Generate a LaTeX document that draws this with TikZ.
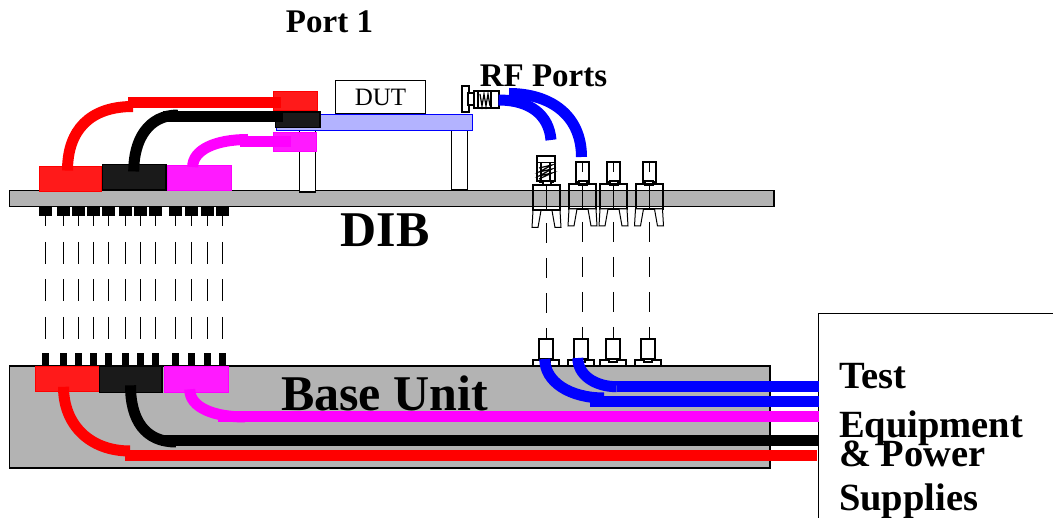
\documentclass[tikz,border=0pt]{standalone}
\usepackage{fontspec}
\setmainfont{Liberation Serif}
\usetikzlibrary{positioning}
\definecolor{plate}{RGB}{179,179,179}
\definecolor{boardblue}{RGB}{179,179,255}
\definecolor{blockred}{RGB}{255,26,26}
\definecolor{blockblack}{RGB}{26,26,26}
\definecolor{blockpink}{RGB}{255,26,255}
\definecolor{wirepink}{RGB}{255,0,255}
\begin{document}
\begin{tikzpicture}[
        x=1pt, y=-1pt,
        every node/.style={inner sep=0pt, outer sep=0pt},
        platebox/.style={draw, line width=1.5pt, fill=plate},
        whitebox/.style={draw, line width=1.5pt, fill=white},
        redblock/.style={draw=red, line width=1pt, fill=blockred},
        blackblock/.style={draw=black, line width=1.5pt, fill=blockblack},
        pinkblock/.style={draw=wirepink, line width=1pt, fill=blockpink},
        pintop/.style={fill=black, minimum width=13pt, minimum height=10pt},
        pinbot/.style={fill=black, minimum width=7pt, minimum height=13pt},
        rfpart/.style={draw, line width=2pt, fill=white},
        rfshell/.style={draw, line width=2pt, minimum width=27pt, minimum height=25pt},
        cable/.style={line width=11pt},
        link/.style={line width=1pt},
        bigtext/.style={font=\bfseries\fontsize{38.5}{40}\selectfont, anchor=base west},
        hugetext/.style={font=\bfseries\fontsize{50}{52}\selectfont},
        porttext/.style={font=\bfseries\fontsize{33}{35}\selectfont}
    ]
    \useasboundingbox (0,0) rectangle (1053,518);
    \node[platebox, minimum width=764.5pt, minimum height=16pt] (dib) at (391.7,198.3) {};
    \node[platebox, minimum width=760.5pt, minimum height=102pt] (base) at (389.7,417.2) {};
    \node[whitebox, minimum width=240pt, minimum height=212pt] (testbox) at (938.5,419.5) {};
    \node[whitebox, minimum width=16pt, minimum height=62pt] (lega) at (307.3,161) {};
    \node[whitebox, minimum width=16pt, minimum height=60pt] (legb) at (459.3,160) {};
    \node[draw, line width=1pt, fill=white, minimum width=90pt, minimum height=33pt, font=\fontsize{25}{27}\selectfont] (dut) at (380.5,97.5) {DUT};
    \node[draw=blue, line width=1pt, fill=boardblue, minimum width=196pt, minimum height=16pt] (board) at (374.2,122.3) {};

    \node[redblock, minimum width=62.5pt, minimum height=25.5pt] (dibred) at (70.5,178.8) {};
    \node[blackblock, minimum width=63.5pt, minimum height=25.5pt] (dibblack) at (134,177.2) {};
    \node[pinkblock, minimum width=64pt, minimum height=25.5pt] (dibpink) at (199,177.8) {};
    \node[redblock, minimum width=44.5pt, minimum height=19.5pt] (portred) at (295.5,101.2) {};
    \node[blackblock, minimum width=44.5pt, minimum height=15.5pt] (portblack) at (297.5,120) {};
    \node[pinkblock, minimum width=43.5pt, minimum height=19.5pt] (portpink) at (295,141.8) {};
    \node[redblock, minimum width=63.5pt, minimum height=25.5pt] (basered) at (67.7,378.8) {};
    \node[blackblock, minimum width=62.5pt, minimum height=26pt] (baseblack) at (130.7,379.3) {};
    \node[pinkblock, minimum width=64pt, minimum height=26pt] (basepink) at (196,379.3) {};

    \foreach \n/\px in {1/45.3,2/63.3,3/78.3,4/93.3,5/108.3,6/125.3,7/140.3,8/155.3,9/175.3,10/191.3,11/207.3,12/222.3} {
        \node[pintop] (pina\n) at (\px,211.5) {};
        \node[pinbot] (pinb\n) at (\px,359.5) {};
        \draw[link, dash pattern=on 22pt off 15.5pt, dash phase=12pt] (pina\n.south) -- (pinb\n.north);
    }

    \foreach \n/\px/\py/\qx in {1/546.5/198/546,2/582.5/196.5/581,3/613.5/196.5/612.5,4/649/196.5/648} {
        \node[rfpart, minimum width=13pt, minimum height=20pt] (cyla\n) at (\px,172.5) {};
        \node[rfpart, minimum width=8pt, minimum height=4pt] (necka\n) at (\px,183.5) {};
        \node[rfshell] (shell\n) at (\px,\py) {};
        \draw[line width=1pt] (shell\n.north) -- (shell\n.south);
        \draw[line width=1pt, fill=white] (shell\n.south west) -- ++(-1,17) -- ++(6,0) -- ++(3,-17) -- cycle;
        \draw[line width=1pt, fill=white] (shell\n.south east) -- ++(1,17) -- ++(-6,0) -- ++(-3,-17) -- cycle;
        \draw[line width=1pt] (cyla\n.north) -- ++(0,10);
        \node[rfpart, minimum width=26pt, minimum height=6pt] (flange\n) at (\qx,363.5) {};
        \node[rfpart, minimum width=8pt, minimum height=4pt] (neckb\n) at (\qx,360) {};
        \node[rfpart, minimum width=14pt, minimum height=20pt] (cylb\n) at (\qx,349.5) {};
        \draw[link, dash pattern=on 20pt off 15pt, dash phase=22pt] (shell\n.south) -- (shell\n.south |- cylb\n.north);
    }

    \node[rfpart, minimum width=18pt, minimum height=25pt] (springa) at (545.5,169) {};
    \draw[line width=1.5pt] (springa.north west) ++(0,6) -- ++(18,0);
    \draw[line width=1.2pt] (539,168) -- (552,165) -- (539,172) -- (552,169) -- (539,176) -- (552,173) -- (539,179);
    \draw[line width=1.2pt] (541,163) -- (541,180) (550,163) -- (550,180);
    \node[rfpart, minimum width=7pt, minimum height=26pt] (flange) at (465,99.5) {};
    \node[rfpart, minimum width=7pt, minimum height=12pt] (neck) at (471,99) {};
    \node[rfpart, minimum width=25pt, minimum height=17pt] (jack) at (486,100) {};
    \draw[line width=1.2pt] (480,94) -- (482,106) -- (484,94) -- (486,106) -- (488,94) -- (490,106);
    \draw[line width=1.5pt] (478,92) -- (478,108) (491,92) -- (491,108);

    \coordinate (redbend) at (133,106.5);
    \coordinate (redrun) at (128,102.5);
    \coordinate (blackbend) at (178,115);
    \coordinate (blackrun) at (163,116.5);
    \coordinate (pinkbend) at (248,139.5);
    \coordinate (pinkrun) at (240,141.3);
    \draw[cable, red] ([shift={(-3,4.5)}]dibred.north) .. controls (67.5,130) and (90,106.5) .. (redbend);
    \draw[cable, red] (redrun) -- (281,102.5);
    \draw[cable, black] ([shift={(-0.3,7)}]dibblack.north) .. controls (133.7,140) and (148,115) .. (blackbend);
    \draw[cable, black] (blackrun) -- (283,116.5);
    \draw[cable, wirepink] ([shift={(-6.3,2)}]dibpink.north) .. controls (192.7,150) and (215,139.5) .. (pinkbend);
    \draw[cable, wirepink] (pinkrun) -- (291,141.3);

    \coordinate (bluestart) at (509,93.5);
    \coordinate (blueenda) at (551,140);
    \coordinate (blueendb) at (581.5,157);
    \draw[cable, blue] (jack.east) .. controls (530,100) and (549,115) .. (blueenda);
    \draw[cable, blue] (bluestart) .. controls (550,93.5) and (581.5,115) .. (blueendb);

    \coordinate (lowredbend) at (130,451);
    \coordinate (lowblackbend) at (176,442);
    \coordinate (lowpinkbend) at (245,417);
    \coordinate (lowbluebenda) at (604,398);
    \coordinate (lowbluebendb) at (616.7,386.7);
    \draw[cable, red] ([shift={(-4.2,8)}]basered.center) .. controls (63.5,425) and (90,451) .. (lowredbend);
    \draw[cable, red] (125,455.5) -- (817,455.5);
    \draw[cable, black] ([shift={(-0.2,6)}]baseblack.center) .. controls (130.5,420) and (145,442) .. (lowblackbend);
    \draw[cable, black] (160.7,440.5) -- (testbox.west |- 0,440.5);
    \draw[cable, wirepink] ([shift={(-6.3,10)}]basepink.center) .. controls (189.7,408) and (215,417) .. (lowpinkbend);
    \draw[cable, wirepink] (218,416.5) -- (testbox.west |- 0,416.5);
    \draw[cable, blue] ([shift={(-1.2,9.5)}]cylb1.center) .. controls (544.8,382) and (570,398) .. (lowbluebenda);
    \draw[cable, blue] (590,401.5) -- (testbox.west |- 0,401.5);
    \draw[cable, blue] ([shift={(-3.2,8.5)}]cylb2.center) .. controls (577.8,375) and (595,386.7) .. (lowbluebendb);
    \draw[cable, blue] (lowbluebendb) -- (testbox.west |- 0,386.7);

    \node[porttext] (portone) at (329.5,22) {Port 1};
    \node[porttext] (rfports) at (543.5,76) {RF Ports};
    \node[hugetext] (dibtext) at (385,230) {DIB};
    \node[hugetext] (basetext) at (384.5,393) {Base Unit};
    \node[bigtext] (testa) at (839,389) {Test};
    \node[bigtext] (testb) at (839,438) {Equipment};
    \node[bigtext] (testc) at (839,467) {\& Power};
    \node[bigtext] (testd) at (839,511) {Supplies};
    \end{tikzpicture}
\end{document}
